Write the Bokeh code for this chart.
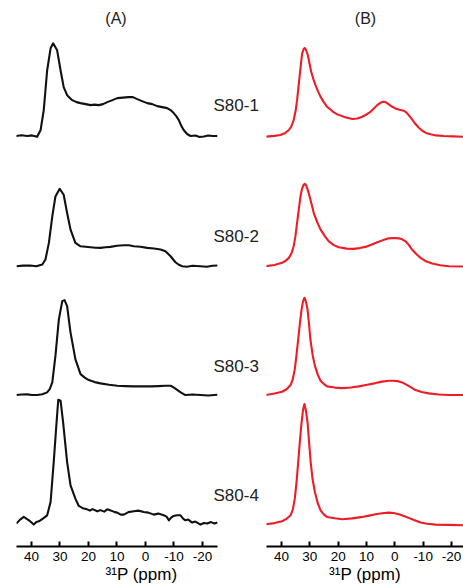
from bokeh.plotting import figure
from bokeh.layouts import row
from bokeh.models import Range1d, FixedTicker, Label
from bokeh.embed import file_html
from bokeh.resources import INLINE

# ---------------- data ----------------
samples = ["S80-1", "S80-2", "S80-3", "S80-4"]
panel_titles = ["(A)", "(B)"]
tick_vals = [40, 30, 20, 10, 0, -10, -20]
tick_labels = ["40", "30", "20", "10", "0", "-10", "-20"]
axis_title = "\u00b3\u00b9P (ppm)"

# stacking offsets (baseline heights of each trace)
offsets_a = [412, 281.3, 152, 24]
offsets_b = [411.3, 281, 152, 22]
label_heights = [443, 311, 181, 51]

# Panel A: experimental spectra (ppm, intensity)
a1_ppm = [45.6, 43.5, 41.5, 39.8, 38.0, 36.8, 35.7, 34.5, 33.3, 32.4, 31.0, 29.8, 28.7, 27.5, 25.7, 24.2, 22.8,
          21.0, 19.3, 17.8, 16.4, 14.9, 13.4, 11.6, 9.9, 7.9, 5.9, 4.4, 2.9, 1.2, -0.6, -2.4, -4.1, -5.9, -7.6,
          -8.8, -9.9, -10.8, -11.7, -12.6, -13.4, -14.6, -15.8, -17.5, -19.0, -20.5, -22.0, -23.6, -25.2]
a1_int = [0, 0.8, 0, 0.6, -0.7, 6, 26, 66, 88, 93, 86, 66, 49, 41, 36, 34, 33, 32, 31, 31.5, 31, 32, 34, 36, 38,
          38.5, 39, 39, 37, 35, 33, 32, 30, 29, 28, 26, 23, 20, 16, 10, 6, 2, 0, 0.5, -1, -0.5, 0.5, 0, 0]

a2_ppm = [45.3, 43.0, 40.4, 38.3, 36.2, 35.1, 33.9, 32.7, 31.6, 30.1, 28.7, 27.5, 26.3, 24.6, 22.8, 21.0, 19.3,
          17.5, 15.8, 14.0, 12.3, 10.0, 7.6, 5.8, 4.1, 1.8, -0.6, -3.0, -5.3, -7.0, -8.8, -10.5, -11.7, -12.9,
          -14.5, -16.5, -19.3, -21.5, -23.5, -25.2]
a2_int = [0, 0.6, 0.7, 0, 1.7, 6.7, 23.4, 50, 70, 77.7, 71.7, 53.4, 36.7, 23.4, 20, 19.5, 19, 18.5, 18.4, 19,
          19.4, 20.5, 21, 21, 20, 19.5, 18.4, 17.8, 16.7, 15, 10, 4, 1.5, 0, -0.5, 0.5, 0, -0.5, 0.5, 0.7]

a3_ppm = [45.3, 43.5, 41.5, 39.8, 38.0, 36.2, 34.5, 33.6, 32.7, 31.6, 30.4, 29.2, 28.4, 27.5, 26.3, 24.6, 22.8,
          21.3, 19.9, 17.8, 15.8, 12.8, 9.9, 7.0, 4.1, 1.2, -1.8, -4.5, -7.0, -8.8, -10.0, -11.1, -12.5, -14.0,
          -16.5, -19.3, -22.0, -25.2]
a3_int = [0, 0.5, 0.7, 0, 0, 0.8, 2.7, 6, 12.7, 39.3, 76, 94.3, 95.3, 89.3, 62.7, 36, 21, 17.5, 15, 13, 11.7,
          10.3, 9.3, 9, 8.7, 8.8, 8.7, 9, 9.3, 9.3, 7.5, 5.3, 2.5, 0, 0.5, 0, -0.5, 0.3]

a4_ppm = [45.3, 44.0, 42.7, 41.8, 40.9, 40.0, 39.2, 38.3, 37.4, 36.0, 34.5, 33.3, 32.2, 31.2, 30.6, 29.8, 28.9,
          27.5, 26.3, 24.6, 23.4, 22.0, 20.5, 19.5, 18.6, 16.9, 15.8, 14.5, 13.4, 12.0, 10.8, 9.9, 8.7, 7.6, 6.0,
          4.1, 2.5, 0.6, -1.0, -2.9, -4.5, -6.4, -7.4, -8.2, -9.0, -9.9, -11.0, -12.3, -13.2, -14.0, -15.0,
          -16.4, -17.5, -19.3, -20.5, -21.6, -23.0, -24.2, -25.2]
a4_int = [-1, 3, 5.7, 4, 2.3, 0, -2, 0.5, 1.3, 4, 7.3, 20.7, 60.7, 100.7, 123.3, 122.3, 100.7, 60.7, 37.3, 24,
          16.7, 14.5, 13.3, 12, 13.5, 11.3, 12.5, 11, 13.3, 12, 10.5, 10, 8, 8, 10.5, 11.3, 12, 10.7, 10, 8, 9,
          7.3, 6, 2.3, 5, 6.7, 7.3, 7.3, 4, 2.3, 3, 0, 1, -2, -0.5, -1, 0.5, -1, 0]

# Panel B: simulated spectra (ppm, intensity)
b1_ppm = [45.6, 42.5, 40.4, 38.8, 37.4, 36.5, 35.7, 35.0, 34.5, 34.0, 33.5, 33.1, 32.7, 32.2, 31.8, 31.3, 30.7,
          30.1, 29.5, 28.7, 28.0, 27.1, 26.2, 25.0, 23.9, 22.0, 20.3, 17.5, 15.0, 13.2, 11.5, 10.0, 8.6, 7.3, 6.2,
          5.1, 4.1, 3.1, 2.1, 1.0, -0.2, -1.7, -3.2, -4.1, -4.9, -6.1, -7.3, -8.5, -9.7, -11.0, -12.6, -14.5,
          -17.3, -20.5, -24.3]
b1_int = [0, 0.8, 1.7, 3.5, 6.7, 10.5, 16.7, 26, 36.7, 50, 63.4, 74, 83.4, 88, 89, 87, 81.7, 73.5, 65, 57.5,
          51.7, 45.5, 40, 34.5, 30, 25.5, 22.4, 19.5, 17.7, 18.3, 20, 22.3, 25, 28.5, 31.7, 34, 35, 34.5, 32.4,
          30.3, 28.4, 27, 26, 24.3, 21.7, 17.3, 12.7, 9, 6, 3.8, 2.4, 1.3, 0.7, 0.3, 0]

b2_ppm = [45.6, 42.5, 39.8, 38.5, 37.4, 36.5, 35.7, 35.1, 34.5, 33.9, 33.3, 32.8, 32.3, 31.8, 31.3, 30.8, 30.4,
          29.5, 28.6, 27.4, 26.2, 24.7, 23.3, 21.5, 19.8, 17.0, 14.5, 12.4, 10.4, 8.3, 6.2, 4.1, 2.1, 0.4, -1.4,
          -2.6, -3.8, -5.0, -6.1, -7.6, -9.1, -11.0, -13.2, -16.0, -19.1, -24.3]
b2_int = [0.3, 1.5, 3.7, 5.8, 8.7, 13, 20.3, 30, 43.7, 57, 70.3, 77.5, 81.5, 83, 81.5, 77.5, 73.7, 64, 53.7,
          44.5, 37, 30.5, 25.3, 21.5, 19.3, 18, 17.7, 18.5, 19.7, 21.8, 24.3, 26.5, 28.3, 28.7, 28.3, 27.3, 25.3,
          21.5, 17, 12.5, 8.7, 5.2, 3, 1.2, 0.3, 0]

b3_ppm = [45.6, 42.5, 39.8, 38.2, 36.8, 36.0, 35.3, 34.7, 34.1, 33.5, 32.9, 32.4, 31.9, 31.4, 30.8, 30.3, 29.8,
          29.0, 28.2, 27.2, 26.2, 25.0, 23.9, 21.2, 18.6, 15.6, 12.7, 9.7, 6.8, 4.5, 2.1, 0.4, -1.4, -2.9, -4.4,
          -5.9, -7.3, -9.5, -12.0, -15.5, -19.1, -24.3]
b3_int = [0, 1.5, 3.3, 5.8, 10, 16, 26, 40, 56, 72, 86, 94, 97.7, 94, 86, 72, 56, 40, 29.3, 20.5, 14.3, 11, 8.7,
          7.5, 7, 7.6, 8.7, 10.3, 12, 13.5, 14.3, 14.3, 13.7, 12.3, 10, 7.5, 5, 3, 1.7, 0.6, 0, 0]

b4_ppm = [45.6, 42.5, 39.8, 38.2, 36.8, 36.0, 35.3, 34.7, 34.1, 33.5, 32.9, 32.4, 31.9, 31.4, 30.8, 30.3, 29.7,
          29.0, 28.2, 27.2, 26.2, 25.0, 23.9, 21.2, 18.6, 15.0, 11.5, 9.1, 6.8, 4.5, 2.1, 0.4, -1.4, -3.2, -4.9,
          -7.0, -9.1, -11.5, -14.4, -19.0, -24.3]
b4_int = [0.3, 1.5, 3.3, 5.8, 9.3, 15, 26, 42, 62.7, 84, 102.7, 115, 121, 115, 102.7, 84, 62.7, 45, 32.7, 21.5,
          14.3, 10, 7.7, 6.3, 5.3, 6.2, 7.7, 9, 10.3, 11.3, 12, 11.6, 10.3, 8.7, 6.7, 4.3, 2, 0.8, 0, -0.3, -0.7]

traces_a = [(a1_ppm, a1_int), (a2_ppm, a2_int), (a3_ppm, a3_int), (a4_ppm, a4_int)]
traces_b = [(b1_ppm, b1_int), (b2_ppm, b2_int), (b3_ppm, b3_int), (b4_ppm, b4_int)]

FONT = "Liberation Sans"
FRAME_H = 546
Y_TOP = 548


def make_panel(frame_w, x_start, x_end, min_left, axis_bounds):
    p = figure(frame_width=frame_w, frame_height=FRAME_H,
               x_range=Range1d(x_start, x_end), y_range=Range1d(0, Y_TOP),
               output_backend="svg", toolbar_location=None, y_axis_location=None,
               min_border_left=min_left, min_border_right=0, min_border_top=0, min_border_bottom=0)
    p.outline_line_color = None
    p.grid.visible = False
    ax = p.xaxis[0]
    ax.ticker = FixedTicker(ticks=tick_vals)
    ax.major_label_overrides = {v: s for v, s in zip(tick_vals, tick_labels)}
    ax.bounds = axis_bounds
    ax.axis_line_width = 2
    ax.axis_line_color = "black"
    ax.major_tick_in = 5
    ax.major_tick_out = 0
    ax.major_tick_line_width = 2
    ax.major_tick_line_color = "black"
    ax.minor_tick_line_color = None
    ax.major_label_standoff = 5
    ax.major_label_text_font = FONT
    ax.major_label_text_font_size = "13.5px"
    ax.major_label_text_color = "black"
    ax.axis_label = axis_title
    ax.axis_label_standoff = 1
    ax.axis_label_text_font = FONT
    ax.axis_label_text_font_size = "17px"
    ax.axis_label_text_font_style = "normal"
    ax.axis_label_text_color = "black"
    return p


pa = make_panel(250, 45.26, -42.46, 16, (-25.26, 45.26))
pb = make_panel(197, 45.29, -24.25, 0, "auto")

for (xs, ys), off in zip(traces_a, offsets_a):
    pa.line([x for x in xs], [y + off for y in ys], line_color="#111111", line_width=2.1, line_join="round")
for (xs, ys), off in zip(traces_b, offsets_b):
    pb.line([x for x in xs], [y + off for y in ys], line_color="#ee1c25", line_width=2.1, line_join="round")

for p, t in zip([pa, pb], panel_titles):
    p.add_layout(Label(x=10.35, y=530, text=t, text_align="center", text_baseline="middle",
                       text_font=FONT, text_font_size="16px", text_color="#222222"))

for s, h in zip(samples, label_heights):
    pa.add_layout(Label(x=-23.86, y=h, text=s, text_align="left", text_baseline="middle",
                        text_font=FONT, text_font_size="17px", text_color="#222222"))

layout = row(pa, pb, spacing=0)
open("out.html", "w").write(file_html(layout, INLINE))
